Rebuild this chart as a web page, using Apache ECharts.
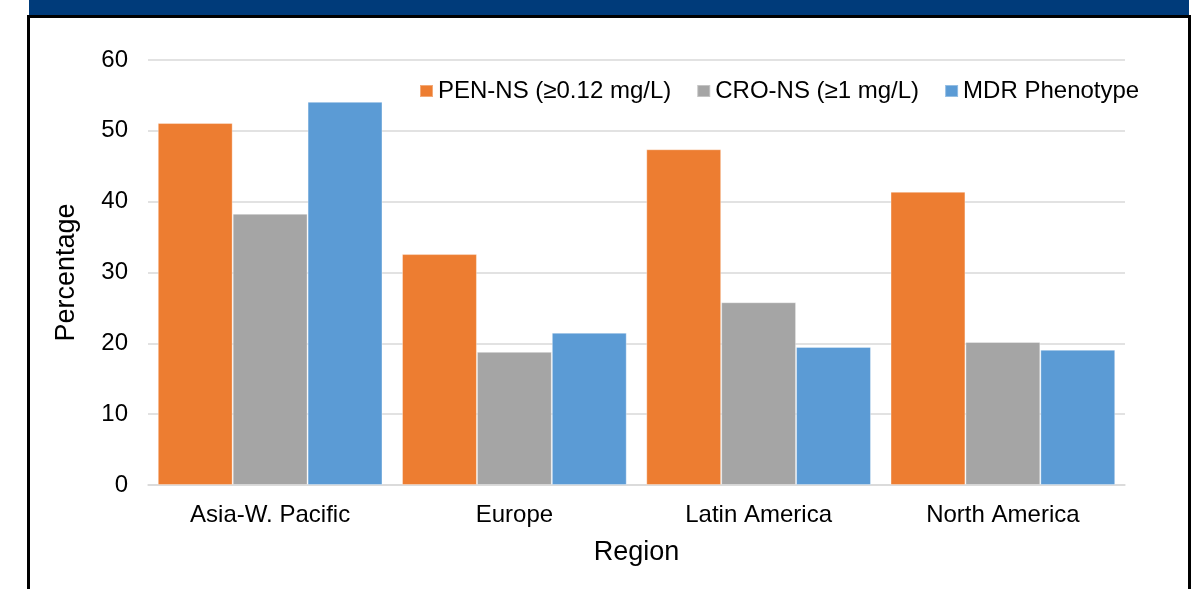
<!DOCTYPE html>
<html><head><meta charset="utf-8">
<script src="https://cdn.jsdelivr.net/npm/echarts@6/dist/echarts.min.js"></script>
<style>html,body{margin:0;padding:0;background:#fff}#c{width:1192px;height:589px}</style>
</head><body><div id="c"></div>
<script>
const categories = ['Asia-W. Pacific', 'Europe', 'Latin America', 'North America'];
const seriesNames = ['PEN-NS (≥0.12 mg/L)', 'CRO-NS (≥1 mg/L)', 'MDR Phenotype'];
const penNS = [51.1, 32.6, 47.4, 41.4];
const croNS = [38.3, 18.8, 25.8, 20.2];
const mdr = [54.1, 21.5, 19.5, 19.1];
const yTicks = [0, 10, 20, 30, 40, 50, 60];
const colors = ['#ED7D31', '#A5A5A5', '#5B9BD5'];

const chart = echarts.init(document.getElementById('c'), null, {renderer: 'canvas'});
const font = 'Liberation Sans, Arial, sans-serif';
const mk = (name, data, color) => ({
  name, type: 'bar', data, barGap: '0%', barCategoryGap: '8%',
  itemStyle: {color, borderColor: 'rgba(255,255,255,0.35)', borderWidth: 1},
  emphasis: {disabled: true}
});
chart.setOption({
  animation: false,
  textStyle: {fontFamily: font},
  grid: {left: 148, right: 67, top: 60, bottom: 104, containLabel: false},
  legend: {
    top: 74, left: 414, itemWidth: 13, itemHeight: 12, itemGap: 25,
    icon: 'rect',
    textStyle: {fontSize: 24, color: '#000', fontFamily: font},
    data: seriesNames
  },
  xAxis: {
    type: 'category', data: categories,
    axisLine: {lineStyle: {color: '#d9d9d9', width: 1.5}},
    axisTick: {show: false},
    axisLabel: {fontSize: 24, color: '#000', margin: 18},
    name: 'Region', nameLocation: 'middle', nameGap: 54,
    nameTextStyle: {fontSize: 27, color: '#000'}
  },
  yAxis: {
    type: 'value', min: yTicks[0], max: yTicks[yTicks.length - 1], interval: 10,
    axisLine: {show: false}, axisTick: {show: false},
    axisLabel: {fontSize: 24, color: '#000', margin: 20},
    splitLine: {lineStyle: {color: '#d9d9d9', width: 1.5}},
    name: 'Percentage', nameLocation: 'middle', nameGap: 68, nameRotate: 90,
    nameTextStyle: {fontSize: 27, color: '#000'}
  },
  series: [mk(seriesNames[0], penNS, colors[0]), mk(seriesNames[1], croNS, colors[1]), mk(seriesNames[2], mdr, colors[2])],
  graphic: [
    {type: 'rect', left: 29, top: 0, shape: {width: 1160, height: 15}, style: {fill: '#003B7A'}, silent: true},
    {type: 'rect', left: 27, top: 15, shape: {width: 1164, height: 3}, style: {fill: '#000'}, silent: true},
    {type: 'rect', left: 27, top: 15, shape: {width: 3, height: 574}, style: {fill: '#000'}, silent: true},
    {type: 'rect', left: 1188, top: 15, shape: {width: 3, height: 574}, style: {fill: '#000'}, silent: true}
  ]
});
</script></body></html>
